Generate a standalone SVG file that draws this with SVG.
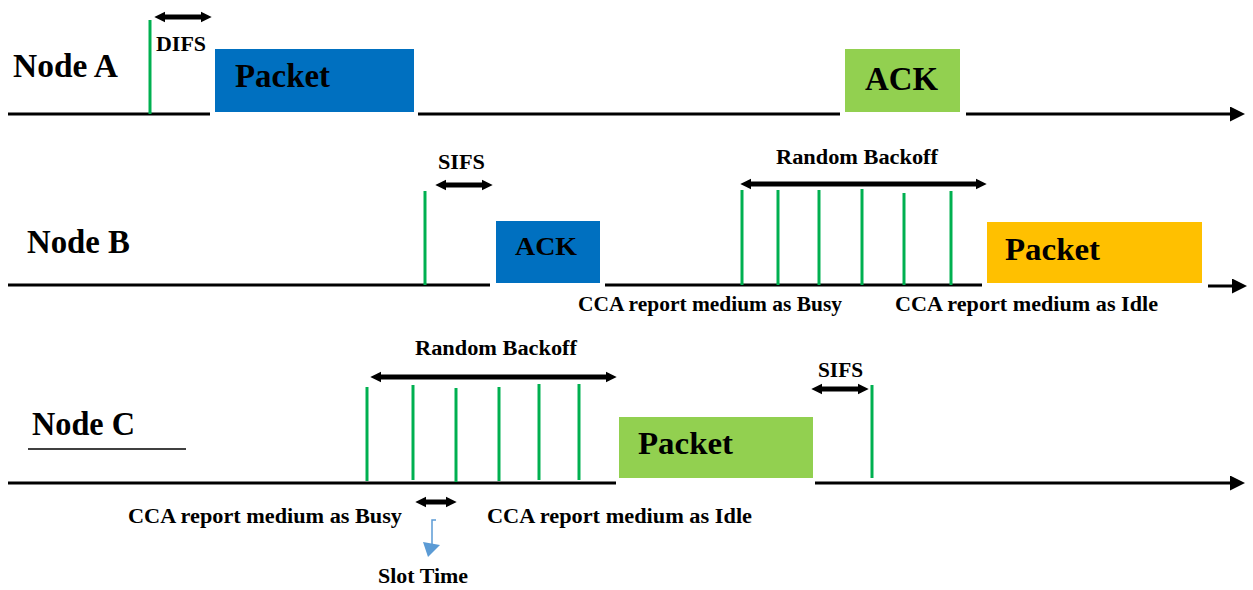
<svg xmlns="http://www.w3.org/2000/svg" width="1253" height="590" viewBox="0 0 1253 590">
  <style>
    text { font-family: "Liberation Serif", "Times New Roman", serif; font-weight: bold; fill: #000; }
    .lbl { font-size: 33px; }
    .box { font-size: 33px; }
    .small { font-size: 20px; }
    .axis { stroke: #000; stroke-width: 3; fill: none; }
    .tick { stroke: #00B050; stroke-width: 3; }
    .span { stroke: #000; stroke-width: 5; fill: none; }
  </style>
  <defs>
    <marker id="axisHead" viewBox="0 0 10 10" refX="2" refY="5" markerWidth="5.5" markerHeight="5" orient="auto" markerUnits="strokeWidth">
      <path d="M0,0 L10,5 L0,10 z" fill="#000"/>
    </marker>
    <marker id="spanHead" viewBox="0 0 10 10" refX="3" refY="5" markerWidth="2.2" markerHeight="2.6" orient="auto-start-reverse" markerUnits="strokeWidth">
      <path d="M0,0 L10,5 L0,10 z" fill="#000"/>
    </marker>
  </defs>

  <!-- time axes and timing spans -->
  <g id="connectors">
    <!-- Node A axis -->
    <line class="axis" x1="8" y1="114" x2="210" y2="114"/>
    <line class="axis" x1="418" y1="114" x2="840" y2="114"/>
    <line class="axis" x1="966" y1="114" x2="1233" y2="114" marker-end="url(#axisHead)"/>
    <!-- Node B axis -->
    <line class="axis" x1="8" y1="285" x2="490" y2="285"/>
    <line class="axis" x1="605" y1="285" x2="982" y2="285"/>
    <line class="axis" x1="1208" y1="286" x2="1235" y2="286" marker-end="url(#axisHead)"/>
    <!-- Node C axis -->
    <line class="axis" x1="8" y1="483" x2="616" y2="483"/>
    <line class="axis" x1="815" y1="483" x2="1233" y2="483" marker-end="url(#axisHead)"/>

    <!-- spans -->
    <line class="span" x1="162" y1="17" x2="204" y2="17" marker-start="url(#spanHead)" marker-end="url(#spanHead)"/>
    <line class="span" x1="443" y1="185" x2="485" y2="185" marker-start="url(#spanHead)" marker-end="url(#spanHead)"/>
    <line class="span" x1="748" y1="184" x2="979" y2="184" marker-start="url(#spanHead)" marker-end="url(#spanHead)"/>
    <line class="span" x1="378" y1="377" x2="609" y2="377" marker-start="url(#spanHead)" marker-end="url(#spanHead)"/>
    <line class="span" x1="819" y1="389" x2="861" y2="389" marker-start="url(#spanHead)" marker-end="url(#spanHead)"/>
    <line class="span" x1="423" y1="502" x2="449" y2="502" marker-start="url(#spanHead)" marker-end="url(#spanHead)"/>

    <!-- slot time pointer -->
    <path d="M436,520 L432,520 L432,544" stroke="#5B9BD5" stroke-width="1.5" fill="none"/>
    <polygon points="423,542 440,545 428,557" fill="#5B9BD5"/>
  </g>

  <!-- Node A -->
  <g id="nodeA">
    <text class="lbl" x="13" y="77" textLength="105" lengthAdjust="spacingAndGlyphs">Node A</text>
    <line class="tick" x1="150" y1="20" x2="150" y2="114"/>
    <text class="small" x="156" y="51" textLength="50" lengthAdjust="spacingAndGlyphs">DIFS</text>
    <rect x="215" y="49" width="199" height="63" fill="#0070C0"/>
    <text class="box" x="235" y="87" textLength="95" lengthAdjust="spacingAndGlyphs">Packet</text>
    <rect x="845" y="49" width="115" height="63" fill="#92D050"/>
    <text class="box" x="865" y="90" style="font-size:34px" textLength="73" lengthAdjust="spacingAndGlyphs">ACK</text>
  </g>

  <!-- Node B -->
  <g id="nodeB">
    <text class="lbl" x="27" y="253" textLength="103" lengthAdjust="spacingAndGlyphs">Node B</text>
    <line class="tick" x1="425" y1="191" x2="425" y2="285"/>
    <text class="small" x="438" y="169" textLength="47" lengthAdjust="spacingAndGlyphs">SIFS</text>
    <rect x="496" y="221" width="104" height="62" fill="#0070C0"/>
    <text class="box" x="515" y="255" style="font-size:26px" textLength="62" lengthAdjust="spacingAndGlyphs">ACK</text>
    <text class="small" x="776" y="164" textLength="162" lengthAdjust="spacingAndGlyphs">Random Backoff</text>
    <line class="tick" x1="742" y1="190" x2="742" y2="285"/>
    <line class="tick" x1="778" y1="190" x2="778" y2="285"/>
    <line class="tick" x1="819" y1="190" x2="819" y2="285"/>
    <line class="tick" x1="862" y1="189" x2="862" y2="285"/>
    <line class="tick" x1="904" y1="193" x2="904" y2="285"/>
    <line class="tick" x1="951" y1="191" x2="951" y2="285"/>
    <rect x="987" y="222" width="215" height="61" fill="#FFC000"/>
    <text class="box" x="1005" y="260" style="font-size:31px" textLength="95" lengthAdjust="spacingAndGlyphs">Packet</text>
    <text class="small" x="578" y="311" textLength="264" lengthAdjust="spacingAndGlyphs">CCA report medium as Busy</text>
    <text class="small" x="895" y="311" textLength="263" lengthAdjust="spacingAndGlyphs">CCA report medium as Idle</text>
  </g>

  <!-- Node C -->
  <g id="nodeC">
    <text class="lbl" x="32" y="435" textLength="103" lengthAdjust="spacingAndGlyphs">Node C</text>
    <line x1="28" y1="449" x2="186" y2="449" stroke="#000" stroke-width="1.5"/>
    <text class="small" x="415" y="355" textLength="162" lengthAdjust="spacingAndGlyphs">Random Backoff</text>
    <line class="tick" x1="367" y1="387" x2="367" y2="481"/>
    <line class="tick" x1="413" y1="385" x2="413" y2="480"/>
    <line class="tick" x1="456" y1="388" x2="456" y2="482"/>
    <line class="tick" x1="499" y1="387" x2="499" y2="481"/>
    <line class="tick" x1="539" y1="384" x2="539" y2="480"/>
    <line class="tick" x1="579" y1="384" x2="579" y2="480"/>
    <rect x="619" y="417" width="194" height="61" fill="#92D050"/>
    <text class="box" x="638" y="454" style="font-size:32px" textLength="95" lengthAdjust="spacingAndGlyphs">Packet</text>
    <text class="small" x="818" y="377" textLength="45" lengthAdjust="spacingAndGlyphs">SIFS</text>
    <line class="tick" x1="872" y1="385" x2="872" y2="478"/>
    <text class="small" x="128" y="523" textLength="274" lengthAdjust="spacingAndGlyphs">CCA report medium as Busy</text>
    <text class="small" x="487" y="523" textLength="265" lengthAdjust="spacingAndGlyphs">CCA report medium as Idle</text>
    <text class="small" x="378" y="583" textLength="90" lengthAdjust="spacingAndGlyphs">Slot Time</text>
  </g>
</svg>
